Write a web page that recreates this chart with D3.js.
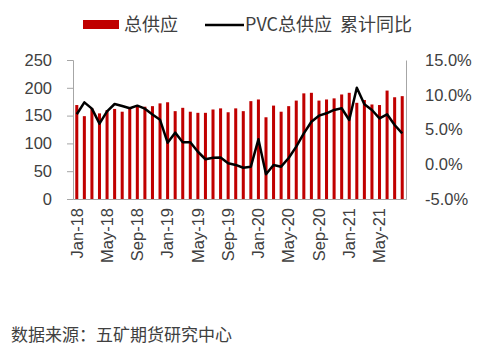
<!DOCTYPE html>
<html>
<head>
<meta charset="utf-8">
<script src="https://d3js.org/d3.v7.min.js"></script>
<style>
body { margin: 0; background: #fff; }
text { font-family: "Liberation Sans", Arial, sans-serif; fill: #404040; }
.cjk { font-family: "Noto Sans CJK SC", sans-serif; }
</style>
</head>
<body>
<script>
// months Jan-18 .. Aug-21
var months = ["Jan-18","Feb-18","Mar-18","Apr-18","May-18","Jun-18","Jul-18","Aug-18","Sep-18","Oct-18","Nov-18","Dec-18",
  "Jan-19","Feb-19","Mar-19","Apr-19","May-19","Jun-19","Jul-19","Aug-19","Sep-19","Oct-19","Nov-19","Dec-19",
  "Jan-20","Feb-20","Mar-20","Apr-20","May-20","Jun-20","Jul-20","Aug-20","Sep-20","Oct-20","Nov-20","Dec-20",
  "Jan-21","Feb-21","Mar-21","Apr-21","May-21","Jun-21","Jul-21","Aug-21"];
var supply = [169,149,163,154,160,162,157,163,166,166,167,172,
  174,158,164,157,155,155,161,163,156,163,158,176,
  179,147,168,157,167,177,190,191,177,179,181,188,
  191,173,178,170,169,195,183,185];
var yoy = [7.2,8.9,8.0,5.85,7.6,8.67,8.38,8.05,8.43,8.0,7.15,6.4,
  3.1,4.55,3.16,3.16,1.8,0.72,0.94,0.97,0.14,-0.1,-0.5,-0.35,
  3.59,-1.45,-0.1,-0.35,0.9,2.53,4.45,6.12,6.99,7.33,7.81,8.05,
  6.37,11.02,8.62,7.81,6.6,7.19,5.65,4.45];
var leftTicks = [0,50,100,150,200,250];
var rightTicks = [-5,0,5,10,15];

var width = 500, height = 349;
var svg = d3.select("body").append("svg").attr("width", width).attr("height", height);

var x = d3.scaleBand().domain(months).range([73, 406]).paddingInner(0.6).paddingOuter(0.3);
var yL = d3.scaleLinear().domain([0, 250]).range([199, 60]);
var yR = d3.scaleLinear().domain([-5, 15]).range([199, 60]);

// bars
svg.selectAll(".bar").data(supply).enter().append("rect")
  .attr("x", function(d, i) { return x(months[i]); })
  .attr("y", function(d) { return yL(d); })
  .attr("width", x.bandwidth())
  .attr("height", function(d) { return yL(0) - yL(d); })
  .attr("fill", "#C00000");

// line
var line = d3.line()
  .x(function(d, i) { return x(months[i]) + x.bandwidth() / 2; })
  .y(function(d) { return yR(d); });
svg.append("path").datum(yoy)
  .attr("d", line)
  .attr("fill", "none")
  .attr("stroke", "#000")
  .attr("stroke-width", 2.5)
  .attr("stroke-linejoin", "round");

// axes
var gL = svg.append("g").attr("transform", "translate(73,0)")
  .call(d3.axisLeft(yL).tickValues(leftTicks).tickSize(6).tickPadding(15));
var gR = svg.append("g").attr("transform", "translate(406,0)")
  .call(d3.axisRight(yR).tickValues(rightTicks).tickSize(0).tickPadding(19)
    .tickFormat(function(d) { return d.toFixed(1) + "%"; }));
var gB = svg.append("g").attr("transform", "translate(0,199)")
  .call(d3.axisBottom(x).tickValues(months.filter(function(d, i) { return i % 4 === 0; })).tickSize(0).tickPadding(0));

[gL, gR, gB].forEach(function(g) {
  g.selectAll("path, line").attr("stroke", "#A6A6A6");
  g.selectAll("text").style("font-size", "16.5px").attr("fill", "#404040")
    .style("font-family", "'Liberation Sans', Arial, sans-serif");
});
gB.selectAll("text")
  .attr("text-anchor", "end")
  .attr("transform", "rotate(-90)")
  .attr("x", -9)
  .attr("y", 0)
  .attr("dy", "0.35em");

// legend
var lg = svg.append("g");
lg.append("rect").attr("x", 83).attr("y", 20).attr("width", 36).attr("height", 9).attr("fill", "#C00000");
lg.append("text").attr("class", "cjk").attr("x", 124).attr("y", 31).style("font-size", "18px").attr("fill", "#333").text("总供应");
lg.append("line").attr("x1", 205).attr("x2", 244).attr("y1", 25).attr("y2", 25).attr("stroke", "#000").attr("stroke-width", 2.5);
lg.append("text").attr("class", "cjk").attr("x", 245).attr("y", 31).style("font-size", "18px").attr("fill", "#333")
  .attr("xml:space", "preserve").text("PVC总供应  累计同比");

// source
svg.append("text").attr("class", "cjk").attr("x", 11).attr("y", 341).style("font-size", "17px").attr("fill", "#222")
  .text("数据来源：五矿期货研究中心");
</script>
</body>
</html>
